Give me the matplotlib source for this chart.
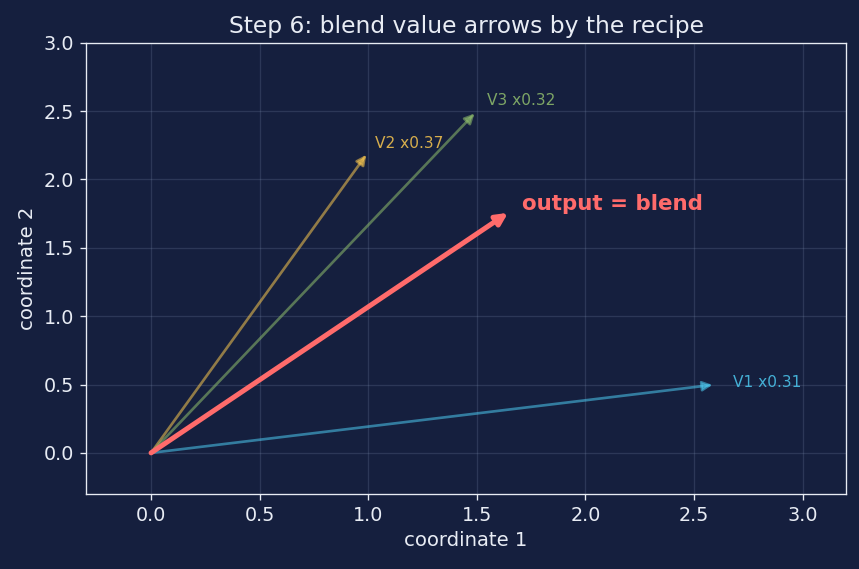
import matplotlib.pyplot as plt
import numpy as np

vec_names = ['V1', 'V2', 'V3']
vecs = np.array([[2.6, 0.5], [1.0, 2.2], [1.5, 2.5]])
weights = np.array([0.31, 0.37, 0.32])
vec_colors = ['#4cc9f0', '#f9c74f', '#90be6d']

bg = '#151f3e'
fg = '#e8ecf4'
out_col = '#ff6b6b'

blend = weights @ vecs

fig, ax = plt.subplots(figsize=(859 / 120, 569 / 120), dpi=120)
fig.patch.set_facecolor(bg)
ax.set_facecolor(bg)

for name, v, w, c in zip(vec_names, vecs, weights, vec_colors):
    ax.annotate('', xy=(v[0], v[1]), xytext=(0, 0),
                arrowprops=dict(arrowstyle='-|>', color=c, lw=1.6, alpha=0.55,
                                shrinkA=0, shrinkB=2, mutation_scale=12))
    ax.text(v[0] * 1.03, v[1] * 1.03, f'{name} x{w:.2f}', color=c, fontsize=9.2,
            ha='left', va='center', alpha=0.85)

ax.annotate('', xy=(blend[0], blend[1]), xytext=(0, 0),
            arrowprops=dict(arrowstyle='-|>', color=out_col, lw=3,
                            shrinkA=0, shrinkB=2, mutation_scale=14))
ax.text(blend[0] * 1.03, blend[1] * 1.03, 'output = blend', color=out_col,
        fontsize=12.8, fontweight='bold', ha='left', va='center')

ax.set_xlim(-0.3, 3.2)
ax.set_ylim(-0.3, 3.0)
ax.set_xticks(np.arange(0, 3.01, 0.5))
ax.set_yticks(np.arange(0, 3.01, 0.5))
ax.grid(True, color='#8090b0', alpha=0.22, lw=0.8)
ax.set_axisbelow(True)
for s in ax.spines.values():
    s.set_color(fg)
ax.tick_params(colors=fg, labelsize=11.5)
ax.set_xlabel('coordinate 1', color=fg, fontsize=11.8)
ax.set_ylabel('coordinate 2', color=fg, fontsize=11.8)
ax.set_title('Step 6: blend value arrows by the recipe', color=fg, fontsize=14)

plt.subplots_adjust(left=0.1, right=0.985, top=0.925, bottom=0.132)
plt.savefig('out.png', facecolor=bg)
